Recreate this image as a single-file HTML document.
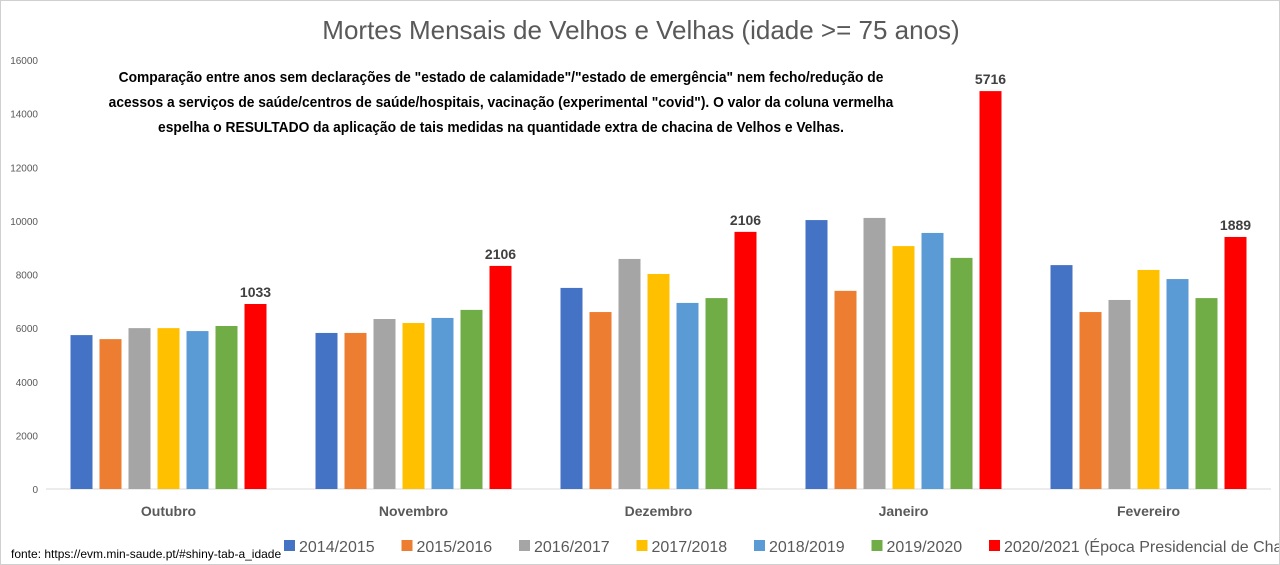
<!DOCTYPE html>
<html><head><meta charset="utf-8"><style>
body{margin:0;background:#fff;}
#wrap{position:relative;width:1278px;height:563px;border:1px solid #d0d0d0;overflow:hidden;font-family:"Liberation Sans",sans-serif;}
.note{position:absolute;left:60px;top:64px;width:880px;text-align:center;font-family:"Liberation Sans Narrow","Liberation Sans",sans-serif;font-weight:bold;font-size:15px;line-height:25px;color:#000;transform:scaleX(0.92);transform-origin:center top;}
</style></head><body>
<div id="wrap">
<svg id="chart" width="1280" height="565"></svg>
<div class="note">Comparação entre anos sem declarações de "estado de calamidade"/"estado de emergência" nem fecho/redução de acessos a serviços de saúde/centros de saúde/hospitais, vacinação (experimental "covid"). O valor da coluna vermelha espelha o RESULTADO da aplicação de tais medidas na quantidade extra de chacina de Velhos e Velhas.</div>
</div>
<script>
const categories=["Outubro","Novembro","Dezembro","Janeiro","Fevereiro"];
const seriesNames=["2014/2015","2015/2016","2016/2017","2017/2018","2018/2019","2019/2020","2020/2021 (Época Presidencial de Chacina)"];
const colors=["#4472C4","#ED7D31","#A5A5A5","#FFC000","#5B9BD5","#70AD47","#FF0000"];
const s0=[5740,5820,7500,10030,8350];
const s1=[5590,5820,6600,7390,6600];
const s2=[6000,6340,8580,10110,7050];
const s3=[6000,6190,8020,9060,8170];
const s4=[5890,6380,6940,9550,7830];
const s5=[6080,6680,7120,8620,7120];
const s6=[6900,8320,9590,14840,9400];
const excess=[1033,2106,2106,5716,1889];
const yTicks=[0,2000,4000,6000,8000,10000,12000,14000,16000];
const series=[s0,s1,s2,s3,s4,s5,s6];
const NS="http://www.w3.org/2000/svg";
const svg=document.getElementById('chart');
const x0=45,x1=1270,yBase=488,yTop=59,yMax=16000;
const y=v=>yBase-(v/yMax)*(yBase-yTop);
const gw=(x1-x0)/categories.length,bw=22,gap=7;
const off=(gw-(7*bw+6*gap))/2;
function mk(tag,attrs,txt){const e=document.createElementNS(NS,tag);for(const k in attrs)e.setAttribute(k,attrs[k]);if(txt!==undefined)e.textContent=txt;svg.appendChild(e);return e;}
let t=mk('text',{x:640,y:38,'text-anchor':'middle','font-size':26,fill:'#595959','font-family':'Liberation Sans,sans-serif'},'Mortes Mensais de Velhos e Velhas (idade >= 75 anos)');


yTicks.forEach(v=>{const e=mk('text',{x:37,y:y(v)+4,'text-anchor':'end','font-size':10,fill:'#595959'},String(v));

});
let ax=mk('line',{x1:x0,x2:x1,y1:yBase,y2:yBase,stroke:'#d9d9d9','stroke-width':1});


categories.forEach((c,i)=>{
  const gx=x0+i*gw;
  series.forEach((s,j)=>{
    const bx=gx+off+j*(bw+gap);
    const r=mk('rect',{x:bx,y:y(s[i]),width:bw,height:yBase-y(s[i]),fill:colors[j]});
    
    
    if(j===6){const l=mk('text',{x:bx+bw/2,y:y(s[i])-7,'text-anchor':'middle','font-size':14,'font-weight':'bold',fill:'#404040'},String(excess[i]));
      
      }
  });
  const cl=mk('text',{x:gx+gw/2,y:515,'text-anchor':'middle','font-size':14,'font-weight':'bold',fill:'#595959'},c);
  
  
});
// legend
const lx=[283,518,753,918,1082,1248,0];
let cx=283;
const widths=[96,96,96,96,96,96,0];
seriesNames.forEach((n,j)=>{
  const g=mk('g',{});
  
  
  const r=document.createElementNS(NS,'rect');r.setAttribute('x',cx);r.setAttribute('y',539);r.setAttribute('width',11);r.setAttribute('height',11);r.setAttribute('fill',colors[j]);g.appendChild(r);
  const tx=document.createElementNS(NS,'text');tx.setAttribute('x',cx+15);tx.setAttribute('y',551);tx.setAttribute('font-size',16);tx.setAttribute('fill','#595959');tx.textContent=n;g.appendChild(tx);
  cx+=117.5;
});
const f=mk('text',{x:10,y:557,'font-size':12,fill:'#000','font-family':'Liberation Sans Narrow,Liberation Sans,sans-serif'},'fonte: https://evm.min-saude.pt/#shiny-tab-a_idade');


</script>
</body></html>
